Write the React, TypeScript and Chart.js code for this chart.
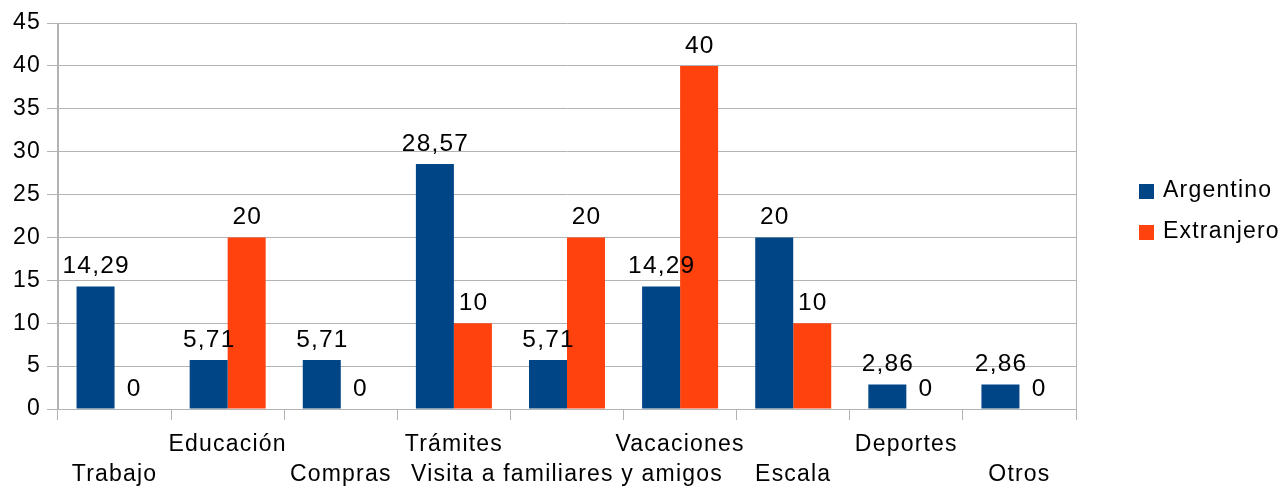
import React, { useEffect, useRef } from "react";
import { Chart, registerables } from "chart.js";

Chart.register(...registerables);

const categories = [
  "Trabajo",
  "Educación",
  "Compras",
  "Trámites",
  "Visita a familiares y amigos",
  "Vacaciones",
  "Escala",
  "Deportes",
  "Otros",
];
const argentino = [14.29, 5.71, 5.71, 28.57, 5.71, 14.29, 20, 2.86, 2.86];
const extranjero = [0, 20, 0, 10, 20, 40, 10, 0, 0];
const seriesNames = ["Argentino", "Extranjero"];
const seriesColors = ["#004586", "#ff420e"];
const yMin = 0;
const yMax = 45;
const yStep = 5;

const FONT = "'Liberation Sans', Arial, sans-serif";
const AXIS_SIZE = 23;
const VALUE_SIZE = 24.5;
const LETTER_SPACING = "1.2px";
const GRID = "#b3b3b3";

const fmt = (v: number) => String(v).replace(".", ",");

const spacingPlugin = {
  id: "spacing",
  beforeUpdate(chart: any) {
    chart.ctx.letterSpacing = LETTER_SPACING;
  },
  beforeDraw(chart: any) {
    chart.ctx.letterSpacing = LETTER_SPACING;
  },
};

const valueLabels = {
  id: "valueLabels",
  afterDatasetsDraw(chart: any) {
    const ctx = chart.ctx;
    ctx.save();
    ctx.font = `${VALUE_SIZE}px ${FONT}`;
    ctx.fillStyle = "#000";
    ctx.textAlign = "center";
    ctx.textBaseline = "alphabetic";
    chart.data.datasets.forEach((ds: any, i: number) => {
      const meta = chart.getDatasetMeta(i);
      meta.data.forEach((el: any, j: number) => {
        const v = ds.data[j] as number;
        ctx.fillText(fmt(v), el.x + 0.6, el.y - 13);
      });
    });
    ctx.restore();
  },
};

const sideLegend = {
  id: "sideLegend",
  afterDraw(chart: any) {
    const ctx = chart.ctx;
    const area = chart.chartArea;
    const x0 = area.right + 63;
    const mid = (area.top + area.bottom) / 2 - 4;
    const n = chart.data.datasets.length;
    const gap = 41;
    ctx.save();
    ctx.font = `${AXIS_SIZE}px ${FONT}`;
    ctx.textAlign = "left";
    ctx.textBaseline = "middle";
    chart.data.datasets.forEach((ds: any, i: number) => {
      const cy = mid + (i - (n - 1) / 2) * gap;
      ctx.fillStyle = ds.backgroundColor;
      ctx.fillRect(x0, cy - 7.5, 15, 15);
      ctx.fillStyle = "#000";
      ctx.fillText(ds.label, x0 + 24, cy - 1);
    });
    ctx.restore();
  },
};

export default function App() {
  const ref = useRef<HTMLCanvasElement | null>(null);

  useEffect(() => {
    document.body.style.margin = "0";
    if (!ref.current) return;
    const chart = new Chart(ref.current, {
      type: "bar",
      data: {
        labels: categories,
        datasets: [
          {
            label: seriesNames[0],
            data: argentino,
            backgroundColor: seriesColors[0],
            borderWidth: 0,
          },
          {
            label: seriesNames[1],
            data: extranjero,
            backgroundColor: seriesColors[1],
            borderWidth: 0,
          },
        ],
      },
      options: {
        responsive: false,
        animation: false,
        devicePixelRatio: 1,
        datasets: {
          bar: {
            categoryPercentage: 0.672,
            barPercentage: 1,
          },
        },
        layout: {
          padding: { left: 0, top: 23, right: 207, bottom: 0 },
        },
        plugins: {
          legend: { display: false },
          tooltip: { enabled: false },
          title: { display: false },
        },
        scales: {
          x: {
            offset: true,
            grid: {
              offset: true,
              drawOnChartArea: true,
              color: (c: any) =>
                c.type === "scale" || c.index === 0 ? GRID : "rgba(0,0,0,0)",
              tickColor: GRID,
              tickLength: 11,
              lineWidth: 1,
            },
            border: { color: GRID },
            ticks: {
              autoSkip: false,
              maxRotation: 0,
              minRotation: 0,
              padding: 10,
              color: "#000",
              font: { family: FONT, size: AXIS_SIZE, lineHeight: 1.304 },
              callback: function (this: any, _v: any, i: number) {
                const lab = categories[i];
                return i % 2 === 0 ? ["", lab] : [lab];
              },
            },
            afterFit: (s: any) => {
              s.height = 81;
            },
          },
          y: {
            min: yMin,
            max: yMax,
            grid: {
              color: GRID,
              tickColor: GRID,
              tickLength: 11,
              lineWidth: 1,
            },
            border: { color: GRID },
            ticks: {
              stepSize: yStep,
              padding: 6,
              color: "#000",
              font: { family: FONT, size: AXIS_SIZE, lineHeight: 1.304 },
              callback: (v: any) => fmt(Number(v)),
            },
            afterFit: (s: any) => {
              s.width = 58;
            },
          },
        },
      },
      plugins: [spacingPlugin, valueLabels, sideLegend],
    } as any);
    return () => chart.destroy();
  }, []);

  return (
    <div style={{ position: "absolute", left: 0, top: 0, width: 1283, height: 490, background: "#fff" }}>
      <canvas ref={ref} width={1283} height={490} />
    </div>
  );
}
